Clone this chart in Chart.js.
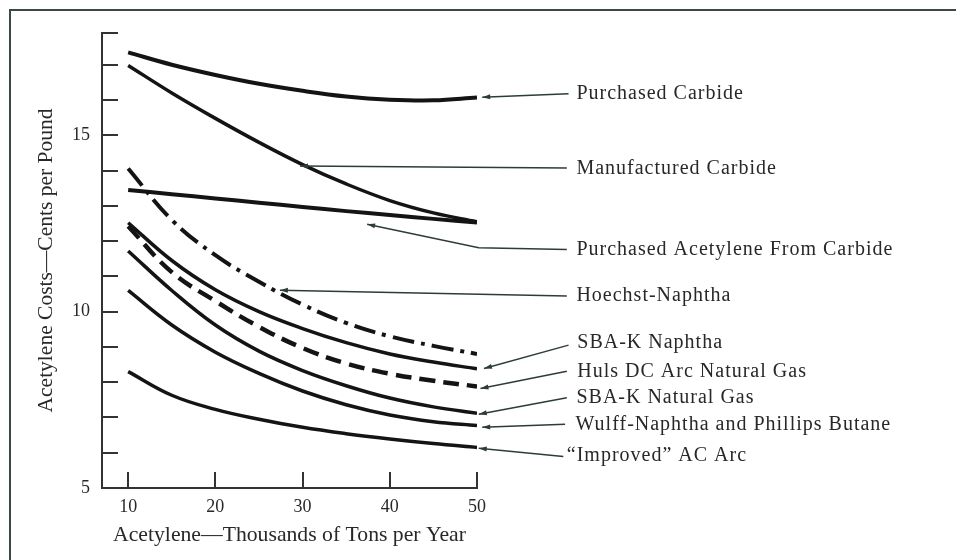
<!DOCTYPE html>
<html lang="en">
<head>
<meta charset="UTF-8">
<title>Acetylene Costs</title>
<style>
  html, body { margin: 0; padding: 0; background: #fff; }
  #wrap { width: 956px; height: 560px; }
</style>
</head>
<body>
<div id="wrap"><canvas id="costChart" width="956" height="560"></canvas></div>
<script src="https://cdn.jsdelivr.net/npm/chart.js"></script>
<script>
// capacity, thousands of tons per year
const tons = [10, 15, 20, 25, 30, 35, 40, 45, 50];

// cents per pound
const purchasedCarbide    = [17.35, 17.00, 16.71, 16.46, 16.26, 16.10, 16.01, 15.99, 16.07];
const manufacturedCarbide = [16.98, 16.20, 15.48, 14.80, 14.17, 13.62, 13.15, 12.80, 12.55];
const purchasedAcetylene  = [13.45, 13.33, 13.21, 13.09, 12.97, 12.85, 12.74, 12.63, 12.53];
const hoechstNaphtha      = [14.06, 12.60, 11.60, 10.85, 10.20, 9.68, 9.30, 9.03, 8.80];
const sbakNaphtha         = [12.52, 11.45, 10.62, 10.00, 9.52, 9.12, 8.80, 8.57, 8.38];
const hulsArcGas          = [12.42, 11.12, 10.30, 9.57, 8.97, 8.53, 8.24, 8.04, 7.88];
const sbakNaturalGas      = [11.72, 10.60, 9.62, 8.88, 8.33, 7.90, 7.55, 7.30, 7.12];
const wulffPhillips       = [10.60, 9.62, 8.85, 8.25, 7.75, 7.36, 7.07, 6.88, 6.77];
const improvedAcArc       = [8.30, 7.63, 7.23, 6.95, 6.72, 6.54, 6.39, 6.26, 6.15];

const xTicks = [10, 20, 30, 40, 50];
const yTicks = [5, 6, 7, 8, 9, 10, 11, 12, 13, 14, 15, 16, 17];
const yLabels = [5, 10, 15];

const SERIF = "'Liberation Serif', 'DejaVu Serif', serif";
const INK = '#141414';
const TEXT = '#282828';

// labels on the right and the arrows pointing into the curves (data units)
const callouts = [
  { text: 'Purchased Carbide', lx: 61.4, ly: 16.18, path: [[60.5, 16.18], [50.6, 16.08]] },
  { text: 'Manufactured Carbide', lx: 61.4, ly: 14.06, path: [[60.3, 14.07], [29.7, 14.13]] },
  { text: 'Purchased Acetylene From Carbide', lx: 61.4, ly: 11.76, path: [[60.3, 11.76], [50.2, 11.81], [37.4, 12.48]] },
  { text: 'Hoechst-Naphtha', lx: 61.4, ly: 10.44, path: [[60.3, 10.44], [27.4, 10.61]] },
  { text: 'SBA-K Naphtha', lx: 61.5, ly: 9.13, path: [[60.5, 9.05], [50.8, 8.39]] },
  { text: 'Huls DC Arc Natural Gas', lx: 61.5, ly: 8.29, path: [[60.3, 8.31], [50.4, 7.82]] },
  { text: 'SBA-K Natural Gas', lx: 61.4, ly: 7.56, path: [[60.3, 7.56], [50.2, 7.09]] },
  { text: 'Wulff-Naphtha and Phillips Butane', lx: 61.3, ly: 6.78, path: [[60.1, 6.81], [50.6, 6.72]] },
  { text: '\u201CImproved\u201D AC Arc', lx: 60.3, ly: 5.91, path: [[59.9, 5.89], [50.2, 6.13]] }
];

function pts(values) {
  return tons.map((t, i) => ({ x: t, y: values[i] }));
}

function series(label, values, width, dash) {
  return {
    label: label,
    data: pts(values),
    borderColor: INK,
    borderWidth: width,
    borderDash: dash || [],
    borderCapStyle: 'butt',
    pointRadius: 0,
    fill: false,
    tension: 0.4
  };
}

const frameAndNotes = {
  id: 'frameAndNotes',
  beforeDraw(chart) {
    const ctx = chart.ctx;
    ctx.save();
    ctx.strokeStyle = '#3b4843';
    ctx.lineWidth = 2;
    ctx.beginPath();
    ctx.moveTo(10, chart.height);
    ctx.lineTo(10, 10);
    ctx.lineTo(chart.width, 10);
    ctx.stroke();
    ctx.restore();
  },
  afterDraw(chart) {
    const ctx = chart.ctx;
    const x = chart.scales.x, y = chart.scales.y;
    ctx.save();
    // tick marks point into the plot
    ctx.strokeStyle = '#333';
    ctx.lineWidth = 2;
    ctx.beginPath();
    x.ticks.forEach(t => {
      const px = Math.round(x.getPixelForValue(t.value));
      ctx.moveTo(px, y.bottom);
      ctx.lineTo(px, y.bottom - 16);
    });
    y.ticks.forEach(t => {
      const py = Math.round(y.getPixelForValue(t.value));
      ctx.moveTo(x.left, py);
      ctx.lineTo(x.left + 16, py);
    });
    ctx.stroke();

    // callout arrows
    ctx.strokeStyle = '#2c3d37';
    ctx.fillStyle = '#2c3d37';
    ctx.lineWidth = 1.5;
    callouts.forEach(c => {
      const p = c.path.map(([vx, vy]) => [x.getPixelForValue(vx), y.getPixelForValue(vy)]);
      ctx.beginPath();
      ctx.moveTo(p[0][0], p[0][1]);
      for (let i = 1; i < p.length; i++) ctx.lineTo(p[i][0], p[i][1]);
      ctx.stroke();
      const [tx, ty] = p[p.length - 1];
      const [sx, sy] = p[p.length - 2];
      const a = Math.atan2(ty - sy, tx - sx);
      ctx.beginPath();
      ctx.moveTo(tx, ty);
      ctx.lineTo(tx - 8 * Math.cos(a) + 2.5 * Math.sin(a), ty - 8 * Math.sin(a) - 2.5 * Math.cos(a));
      ctx.lineTo(tx - 8 * Math.cos(a) - 2.5 * Math.sin(a), ty - 8 * Math.sin(a) + 2.5 * Math.cos(a));
      ctx.closePath();
      ctx.fill();
    });

    // callout text
    ctx.fillStyle = TEXT;
    ctx.font = '20px ' + SERIF;
    ctx.letterSpacing = '1px';
    ctx.textAlign = 'left';
    ctx.textBaseline = 'middle';
    callouts.forEach(c => {
      ctx.fillText(c.text, x.getPixelForValue(c.lx), y.getPixelForValue(c.ly));
    });
    ctx.restore();
  }
};

const ctx = document.getElementById('costChart');
new Chart(ctx, {
  type: 'line',
  data: {
    datasets: [
      series('Purchased Carbide', purchasedCarbide, 4),
      series('Manufactured Carbide', manufacturedCarbide, 3.5),
      series('Purchased Acetylene From Carbide', purchasedAcetylene, 4),
      series('Hoechst-Naphtha', hoechstNaphtha, 4, [22, 7, 4, 7]),
      series('SBA-K Naphtha', sbakNaphtha, 3.5),
      series('Huls DC Arc Natural Gas', hulsArcGas, 4.5, [16, 8]),
      series('SBA-K Natural Gas', sbakNaturalGas, 3.5),
      series('Wulff-Naphtha and Phillips Butane', wulffPhillips, 3.5),
      series('"Improved" AC Arc', improvedAcArc, 3.5)
    ]
  },
  options: {
    responsive: false,
    animation: false,
    devicePixelRatio: 1,
    layout: { padding: { top: 33, right: 479, left: 0, bottom: 0 } },
    plugins: { legend: { display: false }, tooltip: { enabled: false } },
    scales: {
      x: {
        type: 'linear',
        min: 7,
        max: 50,
        afterBuildTicks: s => { s.ticks = xTicks.map(v => ({ value: v })); },
        afterFit: s => { s.height = 72; },
        grid: { drawOnChartArea: false, drawTicks: false },
        border: { display: true, color: '#333', width: 2 },
        ticks: { padding: 8, color: TEXT, maxRotation: 0, font: { family: SERIF, size: 18 } },
        title: {
          display: true,
          text: 'Acetylene\u2014Thousands of Tons per Year',
          color: TEXT,
          font: { family: SERIF, size: 21.7 },
          padding: { top: 0, bottom: 12 }
        }
      },
      y: {
        type: 'linear',
        min: 5,
        max: 17.9,
        afterBuildTicks: s => { s.ticks = yTicks.map(v => ({ value: v })).concat([{ value: s.max }]); },
        afterFit: s => { s.width = 102; },
        grid: { drawOnChartArea: false, drawTicks: false },
        border: { display: true, color: '#333', width: 2 },
        ticks: {
          padding: 12,
          color: TEXT,
          autoSkip: false,
          font: { family: SERIF, size: 18 },
          callback: v => yLabels.includes(v) ? v : ''
        },
        title: {
          display: true,
          text: 'Acetylene Costs\u2014Cents per Pound',
          color: TEXT,
          font: { family: SERIF, size: 21.5 },
          padding: { top: 33, bottom: 0 }
        }
      }
    }
  },
  plugins: [frameAndNotes]
});
</script>
</body>
</html>
